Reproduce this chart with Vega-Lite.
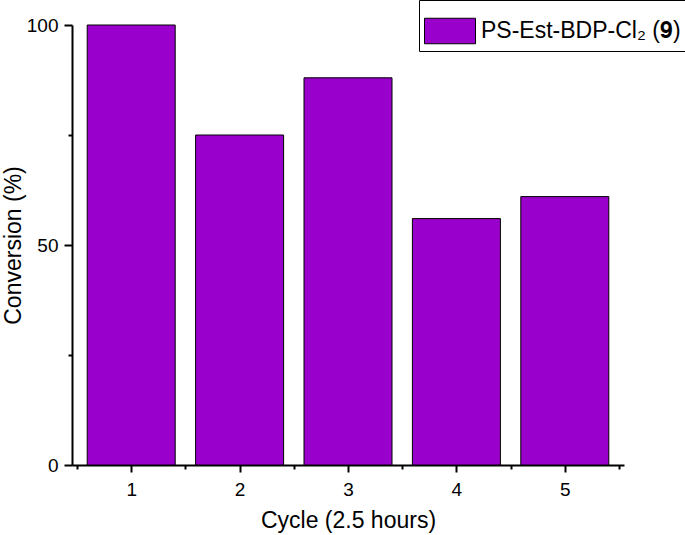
{
  "$schema": "https://vega.github.io/schema/vega-lite/v6.json",
  "autosize": "none",
  "width": 552,
  "height": 440,
  "padding": {"left": 72, "top": 25, "right": 61, "bottom": 70},
  "background": "white",
  "data": {
    "values": [
      {"cycle": 1, "conversion": 100, "series": "PS-Est-BDP-Cl₂ (𝟗)"},
      {"cycle": 2, "conversion": 75, "series": "PS-Est-BDP-Cl₂ (𝟗)"},
      {"cycle": 3, "conversion": 88, "series": "PS-Est-BDP-Cl₂ (𝟗)"},
      {"cycle": 4, "conversion": 56, "series": "PS-Est-BDP-Cl₂ (𝟗)"},
      {"cycle": 5, "conversion": 61, "series": "PS-Est-BDP-Cl₂ (𝟗)"}
    ]
  },
  "mark": {"type": "bar", "width": 88, "stroke": "black", "strokeWidth": 1},
  "encoding": {
    "x": {
      "field": "cycle",
      "type": "quantitative",
      "scale": {"domain": [0.5, 5.5], "nice": false, "zero": false},
      "axis": {
        "title": "Cycle (2.5 hours)",
        "values": [0.5, 1, 1.5, 2, 2.5, 3, 3.5, 4, 4.5, 5, 5.5],
        "labelExpr": "datum.value % 1 === 0 ? '' + datum.value : ''",
        "labelOverlap": false,
        "tickSize": {"condition": {"test": "datum.value % 1 === 0", "value": 7}, "value": 4},
        "labelPadding": 8,
        "titlePadding": 10,
        "grid": false
      }
    },
    "y": {
      "field": "conversion",
      "type": "quantitative",
      "scale": {"domain": [0, 100], "nice": false},
      "axis": {
        "title": "Conversion (%)",
        "values": [0, 25, 50, 75, 100],
        "labelExpr": "datum.value % 50 === 0 ? datum.label : ''",
        "labelOverlap": false,
        "tickSize": {"condition": {"test": "datum.value % 50 === 0", "value": 8}, "value": 4},
        "labelPadding": 6,
        "titlePadding": 1,
        "grid": false
      }
    },
    "fill": {
      "field": "series",
      "type": "nominal",
      "scale": {"range": ["#9900cc"]},
      "legend": {
        "title": null,
        "orient": "none",
        "legendX": 347,
        "legendY": -25,
        "padding": 5,
        "strokeColor": "black",
        "fillColor": "white",
        "symbolType": "M-1,-0.5H1V0.5H-1Z",
        "symbolSize": 2601,
        "symbolStrokeColor": "black",
        "symbolStrokeWidth": 1,
        "symbolOpacity": 1,
        "labelFontSize": 23,
        "labelOffset": 5,
        "labelLimit": 400
      }
    }
  },
  "config": {
    "font": "Liberation Sans",
    "view": {"stroke": null},
    "axis": {
      "domainColor": "black",
      "domainWidth": 2,
      "tickColor": "black",
      "tickWidth": 2,
      "labelColor": "black",
      "labelFont": "Liberation Sans",
      "labelFontSize": 19,
      "titleColor": "black",
      "titleFont": "Liberation Sans",
      "titleFontSize": 23,
      "titleFontWeight": "normal"
    },
    "legend": {
      "labelColor": "black",
      "labelFont": "Liberation Sans"
    }
  }
}
